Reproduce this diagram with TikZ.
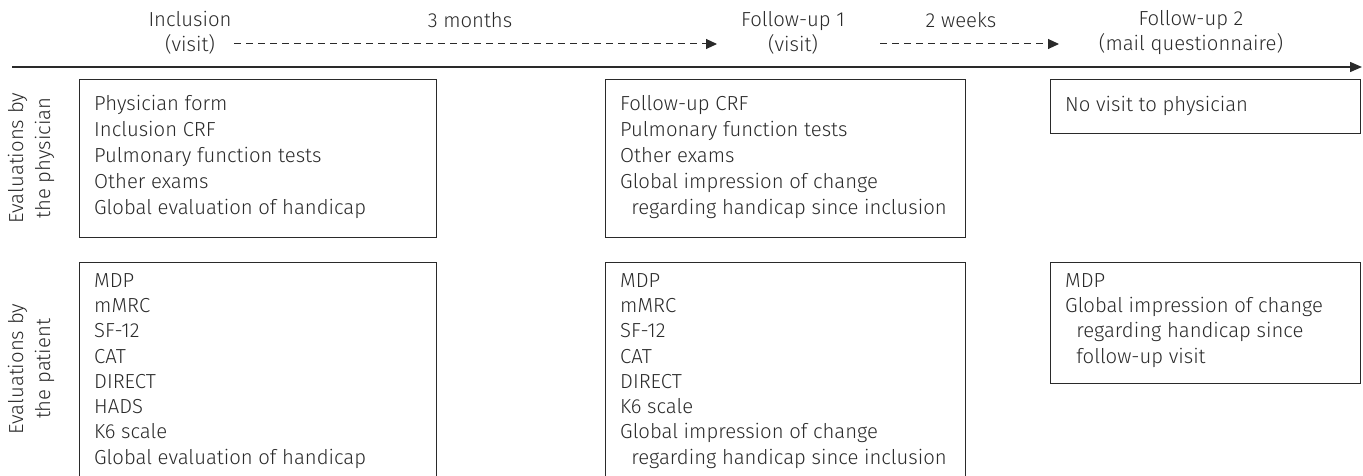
\documentclass[tikz,border=0pt]{standalone}
\usepackage{fontspec}
\setmainfont{Fira Sans}[UprightFont=* Light]
\usetikzlibrary{arrows.meta,calc}
\definecolor{ink}{HTML}{2A2A2A}
\begin{document}
\begin{tikzpicture}[x=1pt,y=-1pt,
  hdr/.style={font=\fontsize{20.3}{25}\selectfont, text=ink, inner sep=0pt, align=center},
  phystxt/.style={font=\fontsize{20.3}{26}\selectfont, text=ink, inner sep=0pt, align=left, anchor=north west},
  pattxt/.style={font=\fontsize{20.3}{25.3}\selectfont, text=ink, inner sep=0pt, align=left, anchor=north west},
  sidelbl/.style={font=\fontsize{20.3}{27}\selectfont, text=ink, inner sep=0pt, align=center, rotate=90},
  evbox/.style={draw=ink, line width=1.2pt, inner sep=0pt, anchor=north west},
  dasharrow/.style={draw=ink, line width=1pt, dash pattern=on 7pt off 5pt, -{Triangle[length=11pt,width=10pt]}},
  timeline/.style={draw=ink, line width=1.5pt, -{Triangle[length=12pt,width=10pt]}}
]
\useasboundingbox (0,0) rectangle (1363,476);
\clip (0,0) rectangle (1363,476);

% header
\node[hdr] (inc) at (190,33) {Inclusion\\(visit)};
\node[hdr] (m3) at (470,20) {3 months};
\node[hdr] (fu1) at (793,33) {Follow-up 1\\(visit)};
\node[hdr] (w2) at (961,20) {2 weeks};
\node[hdr] (fu2) at (1191,33) {Follow-up 2\\(mail questionnaire)};

\coordinate (d1s) at (234,44);
\coordinate (d1e) at (717,44);
\coordinate (d2s) at (880,44);
\coordinate (d2e) at (1059,44);
\draw[dasharrow] (d1s) -- (d1e);
\draw[dasharrow] (d2s) -- (d2e);

\coordinate (t0) at (12,67);
\coordinate (t1) at (1362,67);
\draw[timeline] (t0) -- (t1);

% side labels
\node[sidelbl] (lphys) at (31,158) {Evaluations by\\the physician};
\node[sidelbl] (lpat) at (31,369) {Evaluations by\\the patient};

% physician boxes
\node[evbox, minimum width=357pt, minimum height=158pt] (p1) at (79,79) {};
\node[evbox, minimum width=360pt, minimum height=158pt] (p2) at (605,79) {};
\node[evbox, minimum width=310pt, minimum height=54pt] (p3) at (1050,79) {};

\node[phystxt] (p1t) at ($(p1.north west)+(15,16)$) {Physician form\\Inclusion CRF\\Pulmonary function tests\\Other exams\\Global evaluation of handicap};
\node[phystxt] (p2t) at ($(p2.north west)+(15,16)$) {Follow-up CRF\\Pulmonary function tests\\Other exams\\Global impression of change\\\hspace*{0.55em}regarding handicap since inclusion};
\node[phystxt] (p3t) at ($(p3.north west)+(15,17)$) {No visit to physician};

% patient boxes
\node[evbox, minimum width=357pt, minimum height=240pt] (q1) at (79,262) {};
\node[evbox, minimum width=360pt, minimum height=240pt] (q2) at (605,262) {};
\node[evbox, minimum width=310pt, minimum height=121pt] (q3) at (1050,262) {};

\node[pattxt] (q1t) at ($(q1.north west)+(15,11)$) {MDP\\mMRC\\SF-12\\CAT\\DIRECT\\HADS\\K6 scale\\Global evaluation of handicap};
\node[pattxt] (q2t) at ($(q2.north west)+(15,11)$) {MDP\\mMRC\\SF-12\\CAT\\DIRECT\\K6 scale\\Global impression of change\\\hspace*{0.55em}regarding handicap since inclusion};
\node[pattxt] (q3t) at ($(q3.north west)+(15,11)$) {MDP\\Global impression of change\\\hspace*{0.55em}regarding handicap since\\\hspace*{0.55em}follow-up visit};
\end{tikzpicture}
\end{document}
